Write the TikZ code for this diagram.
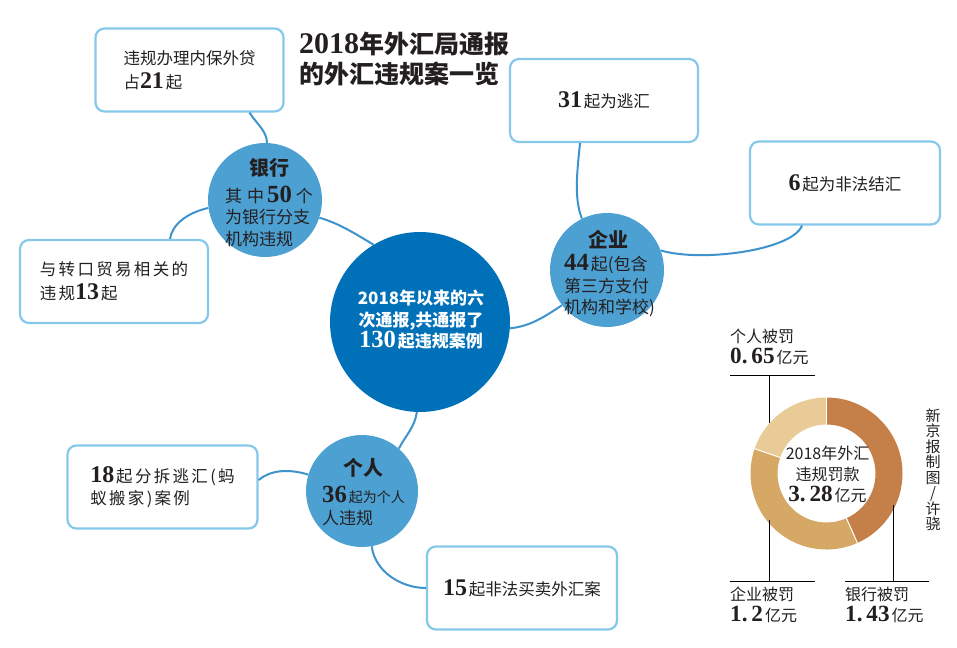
\documentclass[tikz,border=0pt]{standalone}
\usepackage{fontspec}
\newfontfamily\cjk{Noto Sans CJK SC}
\newfontfamily\cjkwide{Noto Sans CJK SC}[LetterSpace=14]
\newfontfamily\numfont{Liberation Serif}[Scale=1.45]
\newfontfamily\titlenum{Liberation Serif}[Scale=1.2]
\newcommand{\bignum}[1]{{\numfont\bfseries #1}\hspace{2pt}}

\definecolor{hubblue}{HTML}{0070B8}
\definecolor{subblue}{HTML}{4DA0D2}
\definecolor{boxblue}{HTML}{86C8EA}
\definecolor{linkblue}{HTML}{3E93CD}
\definecolor{bankfine}{HTML}{C48048}
\definecolor{corpfine}{HTML}{D5A965}
\definecolor{personfine}{HTML}{E9CB97}
\definecolor{inktext}{HTML}{231F20}

\tikzset{
  infobox/.style={draw=boxblue, line width=2.2pt, rounded corners=9pt, fill=white,
    minimum width=188pt, minimum height=83pt, align=left,
    font=\cjk\fontsize{16.5}{24}\selectfont, text=inktext},
  subcircle/.style={circle, fill=subblue, minimum size=114pt, inner sep=0pt},
  link/.style={draw=linkblue, line width=2pt},
  circtitle/.style={font=\cjk\bfseries\fontsize{20}{24}\selectfont, text=inktext},
  circtext/.style={align=left, inner sep=0pt, font=\cjk\fontsize{17}{21.5}\selectfont, text=inktext},
  finelabel/.style={align=left, inner sep=0pt, font=\cjk\fontsize{16}{21}\selectfont, text=inktext},
  leader/.style={draw=black, line width=0.8pt},
}

\begin{document}
\begin{tikzpicture}[x=1pt, y=-1pt]
    \useasboundingbox (0,0) rectangle (957,647);

    % Title
    \node[anchor=west, align=left, inner sep=0pt, font=\cjk\bfseries\fontsize{25}{30}\selectfont, text=inktext]
        (title) at (299,59) {{\titlenum 2018}年外汇局通报\\的外汇违规案一览};

    % Circles
    \node[circle, fill=hubblue, minimum size=180pt, inner sep=0pt] (hub) at (420,322) {};
    \node[subcircle] (bank) at (265,200) {};
    \node[subcircle] (corp) at (607,270) {};
    \node[subcircle, minimum size=112pt] (person) at (362,491) {};

    % Boxes
    \node[infobox] (loan) at (189.5,70) {违规办理内保外贷\\占\bignum{21}起};
    \node[infobox, font=\cjkwide\fontsize{16.5}{24}\selectfont] (trade) at (114,281.5) {与转口贸易相关的\\违规\bignum{13}起};
    \node[infobox] (evasion) at (604,100.5) {\bignum{31}起为逃汇};
    \node[infobox, minimum width=190pt] (settle) at (845,183) {\bignum{6}起为非法结汇};
    \node[infobox, minimum width=190pt, font=\cjkwide\fontsize{16.5}{22}\selectfont] (split) at (162.5,487) {\bignum{18}起分拆逃汇(蚂\\蚁搬家)案例};
    \node[infobox, minimum width=190pt] (dealing) at (522,588) {\bignum{15}起非法买卖外汇案};

    % Connectors
    \draw[link] (bank.88) .. controls +(0,-12) and +(6,10) .. ([xshift=60pt]loan.south);
    \draw[link] (bank.188) .. controls +(-22,5) and +(2,-14) .. ([xshift=56pt]trade.north);
    \draw[link] (bank.-18) .. controls +(20,6) and +(-20,-12) .. (hub.121);
    \draw[link] (hub.-4) .. controls +(20,-2) and +(-18,12) .. (corp.218);
    \draw[link] (corp.116) .. controls +(-8,-20) and +(-3,30) .. ([xshift=-24pt]evasion.south);
    \draw[link] (corp.20) .. controls +(40,12) and +(-10,25) .. ([xshift=-43pt]settle.south);
    \draw[link] (hub.-92) .. controls +(-2,15) and +(6,-12) .. (person.49);
    \draw[link] (person.163) .. controls +(-20,-6) and +(12,-10) .. ([yshift=7pt]split.east);
    \draw[link] (person.-80) .. controls +(3,25) and +(-25,0) .. (dealing.west);

    % Circle texts
    \node[align=center, inner sep=0pt, font=\cjk\bfseries\fontsize{17}{21.5}\selectfont, text=white] (hub-text) at (421,320)
        {2018年以来的六\\次通报,共通报了\\\bignum{130}起违规案例};
    \node[circtitle] (bank-title) at (269,168) {银行};
    \node[circtext, anchor=west] (bank-text) at (225,216) {其\hspace{5pt}中\hspace{3pt}\bignum{50}\hspace{2pt}个\\为银行分支\\机构违规};
    \node[circtitle] (corp-title) at (608,240) {企业};
    \node[circtext, anchor=west] (corp-text) at (564,286) {\bignum{44}起(包含\\第三方支付\\机构和学校)};
    \node[circtitle] (person-title) at (363,468) {个人};
    \node[circtext, anchor=west] (person-text) at (322,506)
        {\bignum{36}{\fontsize{14}{21.5}\selectfont 起为个人}\\人违规};

    % Fines ring
    \begin{scope}[shift={(826.5,473.5)}, y=1pt]
        \fill[bankfine] (90:76) arc[start angle=90, end angle=-66, radius=76]
            -- (-66:49) arc[start angle=-66, end angle=90, radius=49] -- cycle;
        \fill[corpfine] (-66:76) arc[start angle=-66, end angle=-199, radius=76]
            -- (-199:49) arc[start angle=-199, end angle=-66, radius=49] -- cycle;
        \fill[personfine] (161:76) arc[start angle=161, end angle=90, radius=76]
            -- (90:49) arc[start angle=90, end angle=161, radius=49] -- cycle;
        \foreach \a in {90,-66,161}
            \draw[white, line width=1pt] (\a:48) -- (\a:77);
        \node[align=center, inner sep=0pt, font=\cjk\fontsize{16}{21}\selectfont, text=inktext] (ring-text) at (1,-1)
            {2018年外汇\\违规罚款\\\bignum{3.\,28}亿元};
    \end{scope}

    % Fine labels and leaders
    \node[finelabel, anchor=west] (personfine-label) at (730,347) {个人被罚\\\bignum{0.\,65}亿元};
    \node[finelabel, anchor=west] (corpfine-label) at (730,605) {企业被罚\\\bignum{1.\,2}亿元};
    \node[finelabel, anchor=west] (bankfine-label) at (845,605) {银行被罚\\\bignum{1.\,43}亿元};
    \draw[leader] (730,375) -- (815,375);
    \draw[leader] (769,375) -- (769,423);
    \draw[leader] (730,581) -- (815,581);
    \draw[leader] (769,520) -- (769,581);
    \draw[leader] (845,581) -- (929,581);
    \draw[leader] (893,505) -- (893,581);

    % Credit
    \node[align=center, inner sep=0pt, font=\cjk\fontsize{15}{15.5}\selectfont, text=inktext] (credit) at (933,470)
        {新\\京\\报\\制\\图\\/\\许\\骁};
\end{tikzpicture}
\end{document}
